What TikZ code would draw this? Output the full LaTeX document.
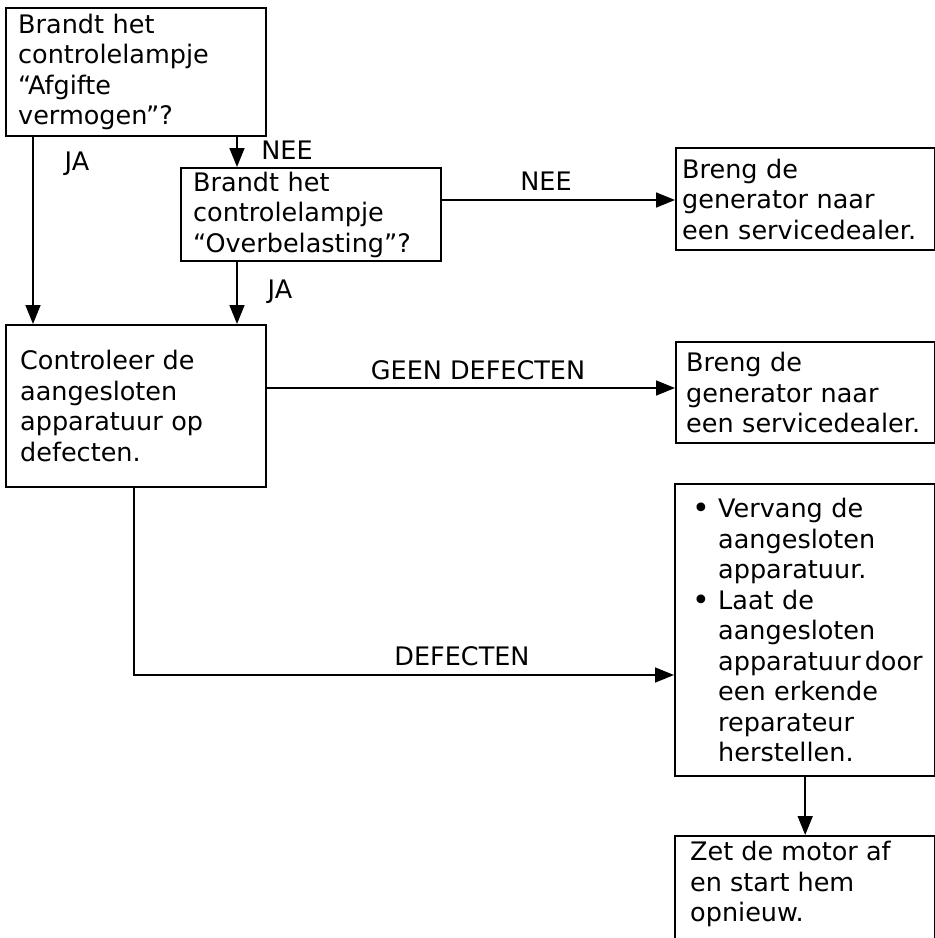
\documentclass[tikz,border=0pt]{standalone}
\usepackage{fontspec}
\setmainfont{DejaVu Sans}
\usetikzlibrary{arrows.meta}
\newcommand{\bul}{\hspace*{17pt}\makebox[26pt][l]{\raisebox{-1pt}{\fontsize{30}{30}\selectfont\textbullet}}}
\begin{document}
\begin{tikzpicture}[x=1pt,y=-1pt,
  every node/.style={font=\fontsize{25.5}{30.5}\selectfont},
  box/.style={draw, line width=2.4pt, anchor=north west, align=left, inner ysep=0pt},
  arr/.style={-{Triangle[length=19pt,width=15pt]}, line width=1.6pt},
  lbl/.style={anchor=base, inner sep=0pt}]
\path[use as bounding box] (0,0) rectangle (935,938);
\clip (0,0) rectangle (935,938);

\node[box, minimum width=260pt, minimum height=128pt, text width=236pt, inner xsep=12pt] (A) at (5,7)
  {Brandt het\\controlelampje\\“Afgifte\\vermogen”?};
\node[box, minimum width=260pt, minimum height=93pt, text width=236pt, inner xsep=12pt] (B) at (180,167)
  {Brandt het\\controlelampje\\“Overbelasting”?};
\node[box, minimum width=260pt, minimum height=162pt, text width=232pt, inner xsep=14pt] (C) at (5,324)
  {Controleer de\\aangesloten\\apparatuur op\\defecten.};
\node[box, minimum width=259pt, minimum height=102pt, text width=247pt, inner xsep=6pt] (D) at (675,147)
  {Breng de\\generator naar\\een~servicedealer.};
\node[box, minimum width=259pt, minimum height=101pt, text width=239pt, inner xsep=10pt] (E) at (675,341)
  {Breng de\\generator naar\\een~servicedealer.};
\node[box, minimum width=260pt, minimum height=292pt, text width=260pt, inner xsep=0pt] (F) at (674,483)
  {\bul Vervang de\\
   \hspace*{43pt}aangesloten\\
   \hspace*{43pt}apparatuur.\\
   \bul Laat de\\
   \hspace*{43pt}aangesloten\\
   \hspace*{43pt}\mbox{apparatuur\hspace{4pt}door}\\
   \hspace*{43pt}een erkende\\
   \hspace*{43pt}reparateur\\
   \hspace*{43pt}herstellen.};
\node[draw, line width=2.4pt, anchor=north west, minimum width=260pt, minimum height=140pt, inner sep=0pt] (G) at (674,835) {};
\node[anchor=north west, align=left, inner sep=0pt] (Gt) at (690,841)
  {Zet de motor af\\en start hem\\opnieuw.};

\coordinate (xAB) at (237,0);
\coordinate (xAC) at (33,0);
\coordinate (yBD) at (0,200);
\coordinate (yCE) at (0,388);
\coordinate (cf) at (134,675);

\draw[arr] (A.south -| xAB) -- (B.north -| xAB);
\draw[arr] (A.south -| xAC) -- (C.north -| xAC);
\draw[arr] (B.south -| xAB) -- (C.north -| xAB);
\draw[arr] (B.east |- yBD) -- (D.west |- yBD);
\draw[arr] (C.east |- yCE) -- (E.west |- yCE);
\draw[arr] (C.south -| cf) |- (F.west |- cf);
\draw[arr] (F.south) -- (G.north);

\node[lbl] (ja1) at (77,170) {JA};
\node[lbl] (nee1) at (287,159) {NEE};
\node[lbl] (ja2) at (280,298) {JA};
\node[lbl] (nee2) at (546,190) {NEE};
\node[lbl] (geen) at (478,379) {GEEN DEFECTEN};
\node[lbl] (def) at (462,665) {DEFECTEN};
\end{tikzpicture}
\end{document}
